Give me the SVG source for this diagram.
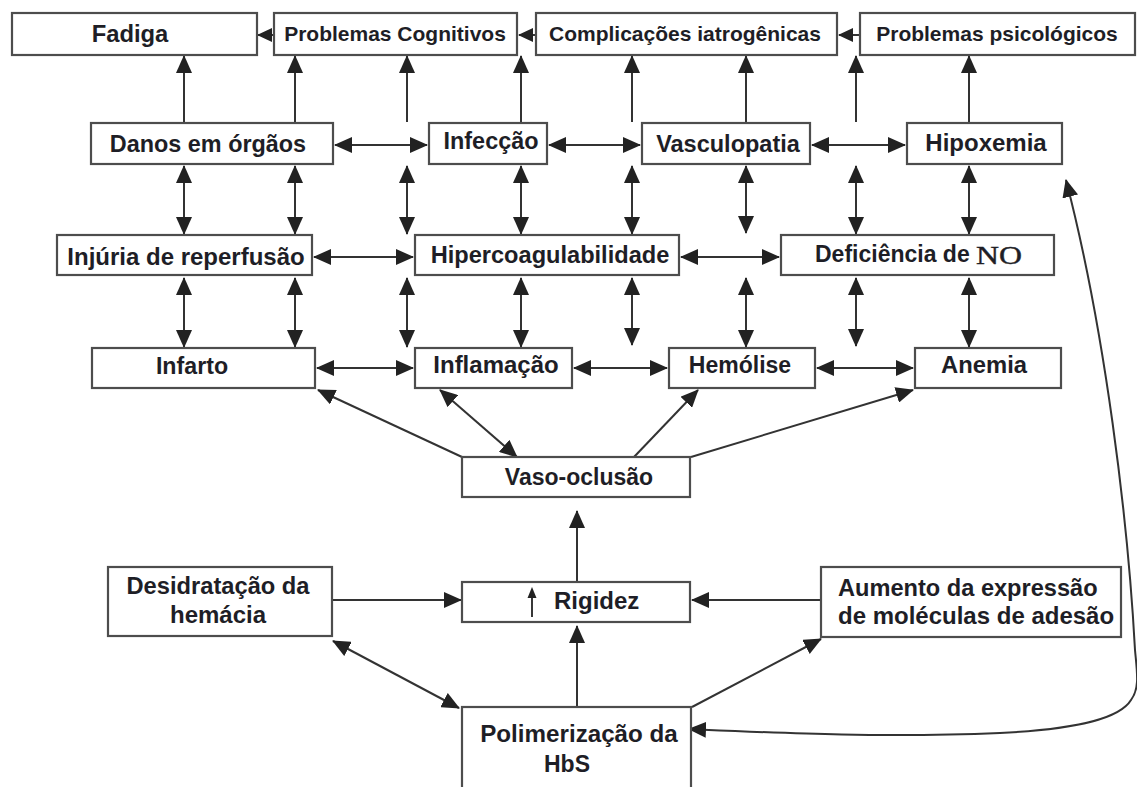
<svg xmlns="http://www.w3.org/2000/svg" width="1137" height="787" viewBox="0 0 1137 787">
  <defs>
    <style>
      .box { fill: #ffffff; stroke: #4d4d4d; stroke-width: 2.2; }
      .lbl { font-family: "Liberation Sans", Arial, sans-serif; font-weight: bold; fill: #1e1e26; text-anchor: middle; }
      .lbl.start { text-anchor: start; }
      .top { font-size: 21px; }
      .con { fill: none; stroke: #333333; stroke-width: 2; }
      .one { marker-end: url(#head); }
      .two { marker-start: url(#head); marker-end: url(#head); }
      .sm { marker-end: url(#headSmall); }
    </style>
    <marker id="head" viewBox="0 0 18 16" refX="17" refY="8" markerWidth="18" markerHeight="16" markerUnits="userSpaceOnUse" orient="auto-start-reverse">
      <path d="M0,0 L18,8 L0,16 z" fill="#222222"/>
    </marker>
    <marker id="headSmall" viewBox="0 0 15 14" refX="14" refY="7" markerWidth="15" markerHeight="14" markerUnits="userSpaceOnUse" orient="auto">
      <path d="M0,0 L15,7 L0,14 z" fill="#222222"/>
    </marker>
  </defs>

  <rect width="1137" height="787" fill="#ffffff"/>

  <!-- connectors -->
  <g id="connectors">
    <!-- top row, leftward -->
    <path class="con sm" d="M274,35 L258,35"/>
    <path class="con sm" d="M536,35 L519,35"/>
    <path class="con sm" d="M860,35 L839,35"/>

    <!-- second row up to first row -->
    <path class="con one" d="M184,123 L184,56"/>
    <path class="con one" d="M295,123 L295,56"/>
    <path class="con one" d="M407,122 L407,56"/>
    <path class="con one" d="M521,123 L521,56"/>
    <path class="con one" d="M632,122 L632,56"/>
    <path class="con one" d="M746,123 L746,56"/>
    <path class="con one" d="M856,122 L856,56"/>
    <path class="con one" d="M969,123 L969,56"/>

    <!-- second row, horizontal -->
    <path class="con two" d="M335,145 L427,145"/>
    <path class="con two" d="M549,145 L640,145"/>
    <path class="con two" d="M812,145 L905,145"/>

    <!-- between second and third rows -->
    <path class="con two" d="M184,166 L184,234"/>
    <path class="con two" d="M295,166 L295,234"/>
    <path class="con two" d="M407,166 L407,234"/>
    <path class="con two" d="M521,166 L521,234"/>
    <path class="con two" d="M632,166 L632,234"/>
    <path class="con two" d="M746,166 L746,233"/>
    <path class="con two" d="M856,166 L856,234"/>
    <path class="con two" d="M969,166 L969,234"/>

    <!-- third row, horizontal -->
    <path class="con two" d="M314,257 L413,257"/>
    <path class="con two" d="M681,257 L779,257"/>

    <!-- between third and fourth rows -->
    <path class="con two" d="M184,278 L184,347"/>
    <path class="con two" d="M295,278 L295,347"/>
    <path class="con two" d="M407,278 L407,347"/>
    <path class="con two" d="M521,278 L521,347"/>
    <path class="con two" d="M632,278 L632,345"/>
    <path class="con two" d="M746,278 L746,347"/>
    <path class="con two" d="M856,278 L856,346"/>
    <path class="con two" d="M969,278 L969,347"/>

    <!-- fourth row, horizontal -->
    <path class="con two" d="M317,368 L413,368"/>
    <path class="con two" d="M574,368 L667,368"/>
    <path class="con two" d="M817,368 L913,368"/>

    <!-- from Vaso-oclusão -->
    <path class="con one" d="M462,457 L318,390"/>
    <path class="con two" d="M440,390 L517,457"/>
    <path class="con one" d="M634,457 L698,390"/>
    <path class="con one" d="M691,457 L913,390"/>

    <!-- lower section -->
    <path class="con one" d="M577,582 L577,511"/>
    <path class="con one" d="M577,707 L577,626"/>
    <path class="con one" d="M332,600 L461,600"/>
    <path class="con one" d="M821,600 L692,600"/>
    <path class="con two" d="M333,641 L459,708"/>
    <path class="con one" d="M692,707 L821,639"/>

    <!-- long return loop to Hipoxemia -->
    <path class="con two" d="M689,729 C780,733 880,738 1000,733 C1080,729 1120,718 1131,700 C1140,688 1137,672 1135,650 C1128,520 1105,330 1066,180"/>
  </g>

  <!-- first row -->
  <g id="fadiga">
    <rect class="box" x="12" y="13" width="245" height="42"/>
    <text class="lbl" x="130" y="42" font-size="23.8">Fadiga</text>
  </g>
  <g id="problemas-cognitivos">
    <rect class="box" x="274" y="13" width="243" height="42"/>
    <text class="lbl top" x="395" y="41">Problemas Cognitivos</text>
  </g>
  <g id="complicacoes-iatrogenicas">
    <rect class="box" x="536" y="13" width="301" height="42"/>
    <text class="lbl top" x="685" y="41">Complicações iatrogênicas</text>
  </g>
  <g id="problemas-psicologicos">
    <rect class="box" x="860" y="13" width="275" height="42"/>
    <text class="lbl top" x="997" y="41">Problemas psicológicos</text>
  </g>

  <!-- second row -->
  <g id="danos-orgaos">
    <rect class="box" x="91" y="123" width="242" height="41"/>
    <text class="lbl" x="208" y="152" font-size="23.4">Danos em órgãos</text>
  </g>
  <g id="infeccao">
    <rect class="box" x="429" y="123" width="118" height="41"/>
    <text class="lbl" x="491" y="148.5" font-size="23.4">Infecção</text>
  </g>
  <g id="vasculopatia">
    <rect class="box" x="642" y="123" width="168" height="41"/>
    <text class="lbl" x="728" y="151.5" font-size="23.5">Vasculopatia</text>
  </g>
  <g id="hipoxemia">
    <rect class="box" x="907" y="123" width="155" height="41"/>
    <text class="lbl" x="986" y="151" font-size="24">Hipoxemia</text>
  </g>

  <!-- third row -->
  <g id="injuria-reperfusao">
    <rect class="box" x="57" y="235" width="255" height="40"/>
    <text class="lbl" x="186" y="264.5" font-size="24">Injúria de reperfusão</text>
  </g>
  <g id="hipercoagulabilidade">
    <rect class="box" x="415" y="235" width="264" height="40"/>
    <text class="lbl" x="550" y="263" font-size="23.6">Hipercoagulabilidade</text>
  </g>
  <g id="deficiencia-no">
    <rect class="box" x="781" y="235" width="273" height="40"/>
    <text class="lbl start" x="815" y="262" font-size="23">Deficiência de</text>
    <text x="976" y="264" font-family="Liberation Serif, 'Times New Roman', serif" font-size="25" fill="#1e1e26" stroke="#1e1e26" stroke-width="0.4" textLength="46" lengthAdjust="spacingAndGlyphs">NO</text>
  </g>

  <!-- fourth row -->
  <g id="infarto">
    <rect class="box" x="92" y="348" width="223" height="40"/>
    <text class="lbl" x="192" y="373.5" font-size="23.2">Infarto</text>
  </g>
  <g id="inflamacao">
    <rect class="box" x="415" y="348" width="157" height="40"/>
    <text class="lbl" x="496" y="373" font-size="24">Inflamação</text>
  </g>
  <g id="hemolise">
    <rect class="box" x="669" y="348" width="146" height="40"/>
    <text class="lbl" x="740" y="373" font-size="23">Hemólise</text>
  </g>
  <g id="anemia">
    <rect class="box" x="915" y="348" width="146" height="40"/>
    <text class="lbl" x="984" y="373" font-size="23.8">Anemia</text>
  </g>

  <!-- lower section -->
  <g id="vaso-oclusao">
    <rect class="box" x="462" y="457" width="228" height="40"/>
    <text class="lbl" x="579" y="485" font-size="23">Vaso-oclusão</text>
  </g>
  <g id="rigidez">
    <rect class="box" x="462" y="582" width="228" height="40"/>
    <path d="M532,617 L532,596" fill="none" stroke="#222222" stroke-width="1.8"/>
    <path d="M527.5,598 L532,587 L536.5,598 z" fill="#222222"/>
    <text class="lbl start" x="554" y="609" font-size="24">Rigidez</text>
  </g>
  <g id="desidratacao-hemacia">
    <rect class="box" x="108" y="567" width="224" height="69"/>
    <text class="lbl" x="218" y="594" font-size="23.7">Desidratação da</text>
    <text class="lbl" x="218" y="623" font-size="24">hemácia</text>
  </g>
  <g id="aumento-expressao">
    <rect class="box" x="821" y="567" width="300" height="70"/>
    <text class="lbl start" x="838" y="596" font-size="23.6">Aumento da expressão</text>
    <text class="lbl start" x="838" y="624" font-size="24">de moléculas de adesão</text>
  </g>
  <g id="polimerizacao-hbs">
    <rect class="box" x="462" y="707" width="229" height="110"/>
    <text class="lbl" x="579" y="742" font-size="24.2">Polimerização da</text>
    <text class="lbl" x="567" y="772" font-size="23">HbS</text>
  </g>
</svg>
